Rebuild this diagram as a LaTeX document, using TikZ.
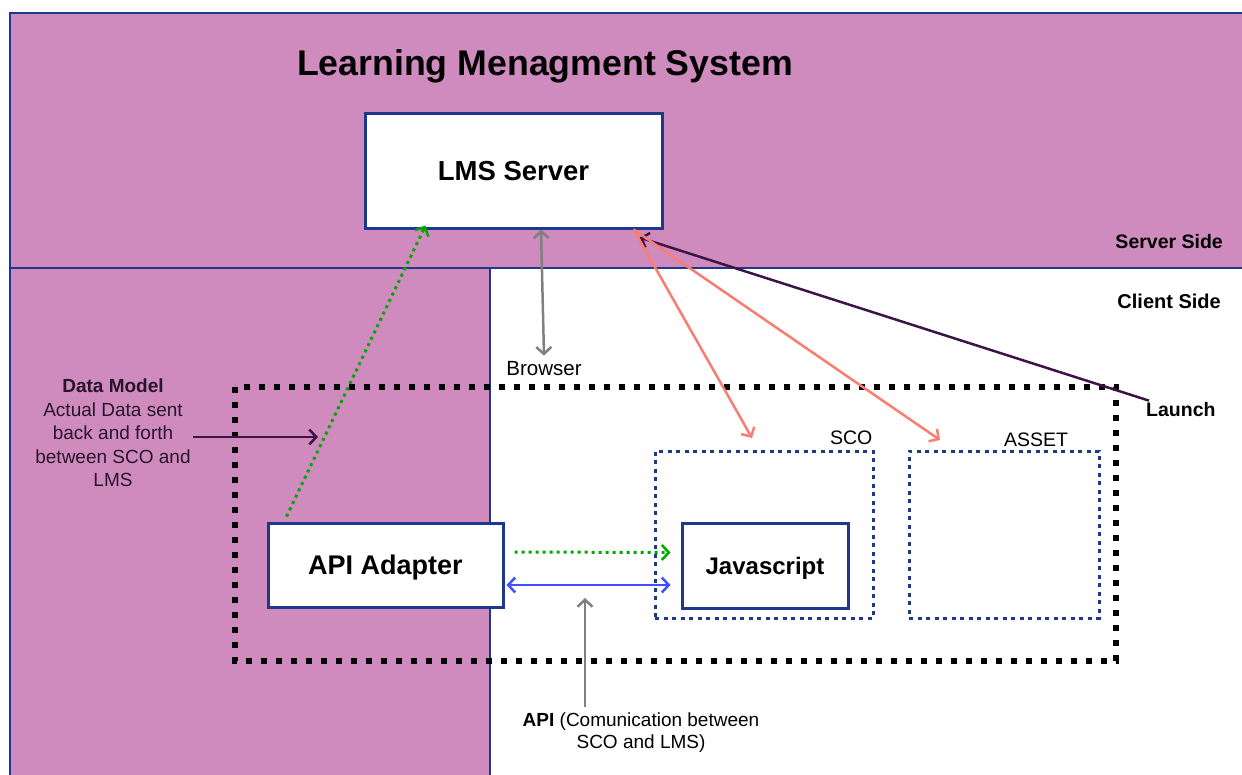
\documentclass[tikz,border=0pt]{standalone}
\usepackage{fontspec}
\setmainfont{Liberation Sans}
\usetikzlibrary{arrows.meta,calc}
\definecolor{lmspurple}{RGB}{207,139,189}
\definecolor{frameblue}{RGB}{32,56,140}
\definecolor{dotgreen}{RGB}{0,168,0}
\definecolor{salmon}{RGB}{250,125,115}
\definecolor{darkplum}{RGB}{60,20,70}
\definecolor{apiblue}{RGB}{64,80,255}
\definecolor{arrgray}{RGB}{128,128,128}
\definecolor{dmtext}{RGB}{40,20,45}
\newcommand{\fs}[1]{\fontsize{#1}{#1}\selectfont}
\tikzset{
  x=1pt,y=-1pt,
  solidbox/.style={draw=frameblue,line width=3pt,fill=white,inner sep=0pt,text depth=0pt},
  dotbox/.style={draw=frameblue,line width=3pt,dash pattern=on 4pt off 4.5pt,inner sep=0pt},
  vtip/.style={-{Straight Barb[length=7pt,width=15pt,line width=2.5pt]}},
  vtips/.style={{Straight Barb[length=7pt,width=15pt,line width=2.5pt]}-{Straight Barb[length=7pt,width=15pt,line width=2.5pt]}},
  lbl/.style={inner sep=0pt,align=center},
}
\begin{document}
\begin{tikzpicture}
\useasboundingbox (0,0) rectangle (1242,774);
\begin{scope}
\clip (0,0) rectangle (1242,774);
% regions
\fill[lmspurple] (10,13) rectangle (1250,268);
\fill[lmspurple] (10,268) rectangle (490,780);
\draw[frameblue,line width=2.5pt] (10,780) -- (10,13) -- (1250,13);
\draw[frameblue,line width=2.5pt] (10,268) -- (1250,268);
\draw[frameblue,line width=2.5pt] (490,268) -- (490,780);

% title and side labels
\node[lbl,font=\bfseries\fs{35.7}] (title) at (545,66) {Learning Menagment System};
\node[lbl,font=\bfseries\fs{19.5},anchor=east] (server) at (1223,242) {Server Side};
\node[lbl,font=\bfseries\fs{20},anchor=east] (client) at (1221,301) {Client Side};

% browser dotted frame
\draw[black,line width=6pt,dash pattern=on 6pt off 9pt] (235,387) rectangle (1116,661);
\node[lbl,font=\fs{20.5}] (browser) at (544,369) {Browser};

% boxes
\node[solidbox,minimum width=297pt,minimum height=115pt,font=\bfseries\fs{27.5}] (lms) at (513.5,170.5) {LMS Server};
\node[solidbox,minimum width=235pt,minimum height=84pt,font=\bfseries\fs{27}] (api) at (385.5,565) {API Adapter};
\node[dotbox,minimum width=218pt,minimum height=167pt] (sco) at (764,534.5) {};
\node[dotbox,minimum width=190pt,minimum height=167pt] (asset) at (1004,534.5) {};
\node[solidbox,minimum width=166pt,minimum height=85pt,font=\bfseries\fs{24}] (js) at (765,565.5) {Javascript};
\node[lbl,font=\fs{19.5},anchor=base east] (scol) at (sco.north east) [xshift=-2pt,yshift=5pt] {SCO};
\node[lbl,font=\fs{19.5}] (assetl) at (1036,440) {ASSET};

% data model
\node[lbl,font=\fs{19},align=center,text=dmtext] (dm) at (113,433) {\textbf{Data Model}\\[4.5pt]Actual Data sent\\[4.5pt]back and forth\\[4.5pt]between SCO and\\[4.5pt]LMS};
\coordinate (dmtip) at (318,437);
\draw[darkplum,line width=2.5pt,vtip] (193,437) -- (dmtip);

% launch
\node[lbl,font=\bfseries\fs{19.5},anchor=west] (launch) at (1146,410) {Launch};
\draw[darkplum,line width=2.5pt,vtip] (launch.north west) ++(3,-2) coordinate (lstart) -- ($(lms.south east)+(-24,8)$);

% browser arrow
\draw[arrgray,line width=2.5pt,vtips] ($(lms.south)+(27.5,0)$) -- ($(browser.north)+(0,-6)$);

% green dotted to LMS
\draw[dotgreen,line width=3pt,dash pattern=on 3pt off 4pt,vtip] ($(api.north west)+(20,-5)$) -- ($(lms.south west)+(62,-4)$);
% green dotted to JS
\draw[dotgreen,line width=3pt,dash pattern=on 3pt off 4pt,vtip] ($(api.east)+(10,-13)$) -- ($(js.west)+(-10,-13)$);
% blue API arrow
\draw[apiblue,line width=2.5pt,vtips] ($(api.east)+(2,20)$) -- ($(js.west)+(-10,19.5)$);

% API caption
\node[lbl,font=\fs{19}] (apicap) at (641,733) {\textbf{API} (Comunication between\\[3pt]SCO and LMS)};
\draw[arrgray,line width=2.5pt,vtip] (585,707) -- (585,598);

% salmon arrows
\draw[salmon,line width=2.5pt,vtip] ($(lms.south east)+(-30,0)$) -- (752,438);
\draw[salmon,line width=2.5pt,vtip] ($(lms.south east)+(-30,0)$) -- (940,440);
\end{scope}
\end{tikzpicture}
\end{document}
